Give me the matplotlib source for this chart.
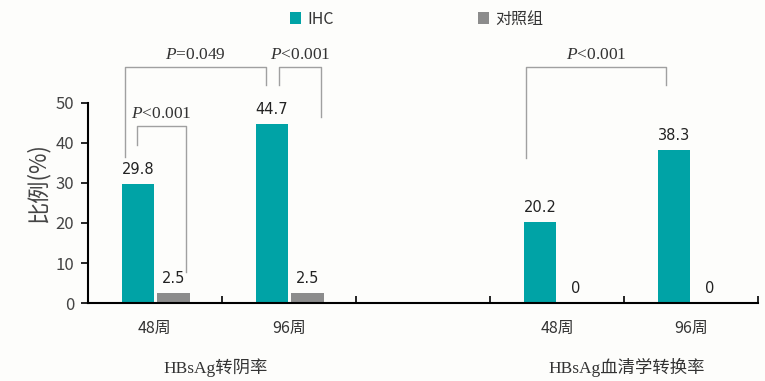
import numpy as np
import matplotlib
matplotlib.use('Agg')
import matplotlib.pyplot as plt

plt.rcParams['font.family'] = ['Noto Sans CJK SC', 'DejaVu Sans']
plt.rcParams['mathtext.fontset'] = 'custom'
plt.rcParams['mathtext.it'] = 'Liberation Serif:italic'
plt.rcParams['mathtext.rm'] = 'Liberation Serif'

# data
categories = ['48周', '96周', '', '48周', '96周']
bar_pos = [0, 1, 3, 4]
ihc = [29.8, 44.7, 20.2, 38.3]
ctrl = [2.5, 2.5, 0, 0]
ihc_labels = ['29.8', '44.7', '20.2', '38.3']
ctrl_labels = ['2.5', '2.5', '0', '0']
groups = ['HBsAg转阴率', 'HBsAg血清学转换率']
group_pos = [0.45, 3.52]
series = ['IHC', '对照组']

# significance brackets: (x_left, x_right, y_top, y_left_bottom, y_right_bottom, text)
brackets = [
    (-0.224, 0.828, 59, 36.5, 54.5, '$P$=0.049'),
    (0.925, 1.239, 59, 54.5, 46.5, '$P$<0.001'),
    (-0.134, 0.231, 44.3, 39.5, 7.8, '$P$<0.001'),
    (2.769, 3.813, 59, 36.3, 54.5, '$P$<0.001'),
]

teal = '#00A3A6'
grey = '#8C8C8C'
bg = '#FDFDFB'

fig = plt.figure(figsize=(7.65, 3.81), dpi=100, facecolor=bg)
ax = fig.add_axes([0.115, 0.2047, 0.876, 0.63], facecolor=bg)

w = 0.24
x = np.array(bar_pos)
b1 = ax.bar(x - 0.127, ihc, width=w, color=teal, label=series[0])
b2 = ax.bar(x + 0.138, ctrl, width=w, color=grey, label=series[1])

for xi, v, t in zip(x - 0.127, ihc, ihc_labels):
    ax.annotate(t, (xi, v), xytext=(0, 5), textcoords='offset points',
                ha='center', va='bottom', fontsize=10.5, color='#222222',
                family=['DejaVu Sans'])
for xi, v, t in zip(x + 0.138, ctrl, ctrl_labels):
    ax.annotate(t, (xi, v), xytext=(0, 5), textcoords='offset points',
                ha='center', va='bottom', fontsize=10.5, color='#222222',
                family=['DejaVu Sans'])

for xl, xr, yt, yl, yr, t in brackets:
    ax.plot([xl, xl, xr, xr], [yl, yt, yt, yr], color='#A0A0A0', lw=1.0,
            clip_on=False)
    ax.text((xl + xr) / 2, yt + 1.0, t, ha='center', va='bottom',
            fontsize=12.5, color='#333333', family=['Liberation Serif'])

ax.set_xlim(-0.5, 4.5)
ax.set_ylim(0, 60)
ax.set_yticks([0, 10, 20, 30, 40, 50])
ax.spines['left'].set_bounds(0, 50)
ax.spines['top'].set_visible(False)
ax.spines['right'].set_visible(False)
ax.spines['left'].set_linewidth(1.5)
ax.spines['bottom'].set_linewidth(1.5)

ax.set_xticks(np.arange(-0.5, 4.6, 1.0))
ax.set_xticklabels([])
ax.set_xticks(range(5), minor=True)
ax.set_xticklabels(categories, minor=True, fontsize=11.5, color='#333333')
ax.tick_params(axis='x', which='major', direction='in', length=5, width=1.2)
ax.tick_params(axis='x', which='minor', length=0, pad=12)
ax.tick_params(axis='y', direction='out', length=5, width=1.2,
               labelsize=12, labelcolor='#444444', pad=5)
ax.set_ylabel('比例(%)', fontsize=16, color='#444444', labelpad=4)

for gx, g in zip(group_pos, groups):
    ax.text(gx, -0.27, g, transform=ax.get_xaxis_transform(), ha='center',
            va='center', fontsize=12.5, color='#333333',
            family=['Liberation Serif', 'Noto Sans CJK SC'])

fig.legend(handles=[b1, b2], labels=series, loc='center',
           bbox_to_anchor=(0.545, 0.95), ncol=2, frameon=False,
           handlelength=0.7, handleheight=0.7, handletextpad=0.4,
           columnspacing=9.0, fontsize=11.5, labelcolor='#333333')

fig.savefig('out.png', dpi=100, facecolor=bg)
